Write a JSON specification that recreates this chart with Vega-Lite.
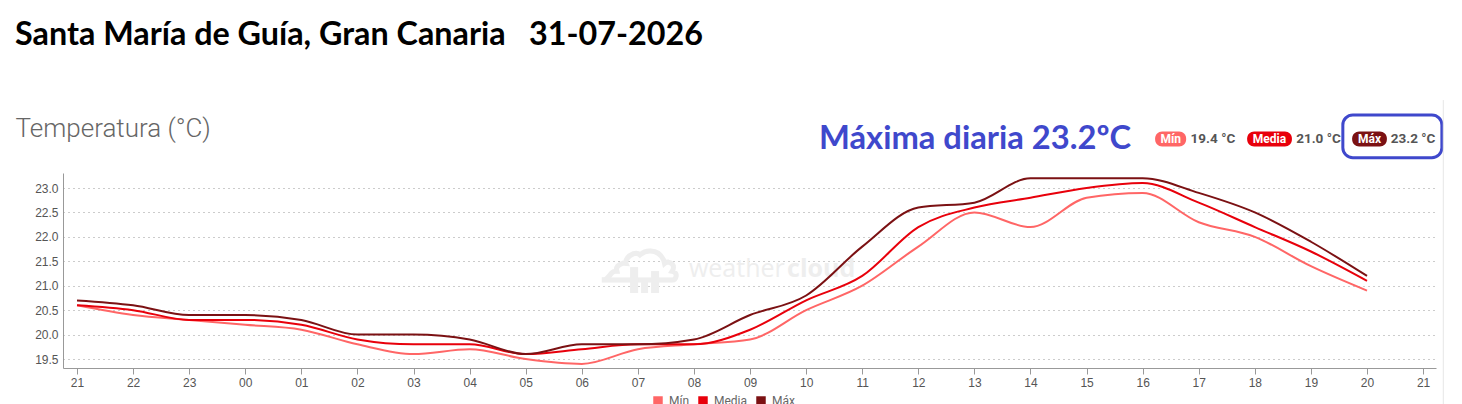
{
  "$schema": "https://vega.github.io/schema/vega-lite/v6.json",
  "width": 1373,
  "height": 195,
  "autosize": {"type": "none"},
  "padding": {"left": 63, "top": 173, "right": 26, "bottom": 36},
  "background": "white",
  "config": {"view": {"stroke": null}},
  "data": {
    "values": [
      {"hora": 0, "Mín": 20.6, "Media": 20.6, "Máx": 20.7},
      {"hora": 1, "Mín": 20.4, "Media": 20.5, "Máx": 20.6},
      {"hora": 2, "Mín": 20.3, "Media": 20.3, "Máx": 20.4},
      {"hora": 3, "Mín": 20.2, "Media": 20.3, "Máx": 20.4},
      {"hora": 4, "Mín": 20.1, "Media": 20.2, "Máx": 20.3},
      {"hora": 5, "Mín": 19.8, "Media": 19.9, "Máx": 20.0},
      {"hora": 6, "Mín": 19.6, "Media": 19.8, "Máx": 20.0},
      {"hora": 7, "Mín": 19.7, "Media": 19.8, "Máx": 19.9},
      {"hora": 8, "Mín": 19.5, "Media": 19.6, "Máx": 19.6},
      {"hora": 9, "Mín": 19.4, "Media": 19.7, "Máx": 19.8},
      {"hora": 10, "Mín": 19.7, "Media": 19.8, "Máx": 19.8},
      {"hora": 11, "Mín": 19.8, "Media": 19.8, "Máx": 19.9},
      {"hora": 12, "Mín": 19.9, "Media": 20.1, "Máx": 20.4},
      {"hora": 13, "Mín": 20.5, "Media": 20.7, "Máx": 20.8},
      {"hora": 14, "Mín": 21.0, "Media": 21.2, "Máx": 21.8},
      {"hora": 15, "Mín": 21.8, "Media": 22.2, "Máx": 22.6},
      {"hora": 16, "Mín": 22.5, "Media": 22.6, "Máx": 22.7},
      {"hora": 17, "Mín": 22.2, "Media": 22.8, "Máx": 23.2},
      {"hora": 18, "Mín": 22.8, "Media": 23.0, "Máx": 23.2},
      {"hora": 19, "Mín": 22.9, "Media": 23.1, "Máx": 23.2},
      {"hora": 20, "Mín": 22.3, "Media": 22.7, "Máx": 22.9},
      {"hora": 21, "Mín": 22.0, "Media": 22.2, "Máx": 22.5},
      {"hora": 22, "Mín": 21.4, "Media": 21.7, "Máx": 21.9},
      {"hora": 23, "Mín": 20.9, "Media": 21.1, "Máx": 21.2}
    ]
  },
  "layer": [
    {
      "data": {"values": [{"texto": "☁"}]},
      "mark": {"type": "text", "align": "center", "baseline": "middle", "font": "DejaVu Sans", "fontSize": 80, "fill": null, "fillOpacity": 0, "stroke": "#eeeeee", "strokeWidth": 5},
      "encoding": {
        "x": {"datum": 10.04, "type": "quantitative", "title": null},
        "y": {"datum": 21.6, "type": "quantitative", "title": null},
        "text": {"field": "texto"}
      }
    },
    {
      "data": {"values": [{}]},
      "mark": {"type": "rect", "color": "#eeeeee"},
      "encoding": {
        "x": {"datum": 9.861, "type": "quantitative", "title": null},
        "x2": {"datum": 10.004},
        "y": {"datum": 21.381, "type": "quantitative", "title": null},
        "y2": {"datum": 20.85}
      }
    },
    {
      "data": {"values": [{}]},
      "mark": {"type": "rect", "color": "#eeeeee"},
      "encoding": {
        "x": {"datum": 10.057, "type": "quantitative", "title": null},
        "x2": {"datum": 10.182},
        "y": {"datum": 21.156, "type": "quantitative", "title": null},
        "y2": {"datum": 20.85}
      }
    },
    {
      "data": {"values": [{}]},
      "mark": {"type": "rect", "color": "#eeeeee"},
      "encoding": {
        "x": {"datum": 10.235, "type": "quantitative", "title": null},
        "x2": {"datum": 10.378},
        "y": {"datum": 21.3, "type": "quantitative", "title": null},
        "y2": {"datum": 20.85}
      }
    },
    {
      "data": {"values": [{"texto": "weather"}]},
      "mark": {"type": "text", "align": "left", "baseline": "alphabetic", "font": "Open Sans", "fontSize": 25, "color": "#eeeeee"},
      "encoding": {
        "x": {"datum": 10.91, "type": "quantitative", "title": null},
        "y": {"datum": 21.18, "type": "quantitative", "title": null},
        "text": {"field": "texto"}
      }
    },
    {
      "data": {"values": [{"texto": "cloud"}]},
      "mark": {"type": "text", "align": "left", "baseline": "alphabetic", "font": "Open Sans", "fontSize": 25, "fontWeight": "bold", "color": "#eeeeee"},
      "encoding": {
        "x": {"datum": 12.66, "type": "quantitative", "title": null},
        "y": {"datum": 21.18, "type": "quantitative", "title": null},
        "text": {"field": "texto"}
      }
    },
    {
      "transform": [{"fold": ["Mín", "Media", "Máx"], "as": ["serie", "temp"]}],
      "mark": {"type": "line", "interpolate": "monotone", "strokeWidth": 2},
      "encoding": {
        "x": {
          "field": "hora",
          "type": "quantitative",
          "scale": {"domain": [-0.25, 24.23], "nice": false, "zero": false},
          "axis": {
            "title": null,
            "values": [0, 1, 2, 3, 4, 5, 6, 7, 8, 9, 10, 11, 12, 13, 14, 15, 16, 17, 18, 19, 20, 21, 22, 23, 24],
            "tickCount": 30,
            "labelExpr": "timeFormat(datetime(2026, 6, 30, 21 + datum.value), '%H')",
            "grid": false,
            "labelFlush": false,
            "labelOverlap": false,
            "tickSize": 6,
            "tickColor": "#999999",
            "domainColor": "#999999",
            "labelColor": "#555555",
            "labelFont": "Liberation Sans",
            "labelFontSize": 12,
            "labelPadding": 3
          }
        },
        "y": {
          "field": "temp",
          "type": "quantitative",
          "scale": {"domain": [19.316, 23.307], "nice": false, "zero": false},
          "axis": {
            "title": null,
            "values": [19.5, 20, 20.5, 21, 21.5, 22, 22.5, 23],
            "tickCount": 10,
            "format": ".1f",
            "grid": true,
            "gridDash": [1, 4],
            "gridColor": "#999999",
            "ticks": false,
            "labelOverlap": false,
            "domainColor": "#999999",
            "labelColor": "#555555",
            "labelFont": "Liberation Sans",
            "labelFontSize": 12,
            "labelPadding": 5
          }
        },
        "color": {
          "field": "serie",
          "type": "nominal",
          "scale": {"domain": ["Mín", "Media", "Máx"], "range": ["#ff6666", "#e8000b", "#7b1113"]},
          "legend": {
            "title": null,
            "orient": "none",
            "legendX": 589,
            "legendY": 222,
            "padding": 0,
            "direction": "horizontal",
            "symbolType": "square",
            "symbolSize": 90,
            "symbolStrokeWidth": 0,
            "labelColor": "#666666",
            "labelFont": "Roboto",
            "labelFontSize": 12,
            "labelOffset": 5,
            "columnPadding": 7,
            "encode": {"symbols": {"update": {"fill": {"scale": "color", "field": "value"}, "opacity": {"value": 1}}}}
          }
        }
      }
    },
    {
      "data": {"values": [{"texto": "Santa María de Guía, Gran Canaria \u00a0 31-07-2026"}]},
      "mark": {"type": "text", "align": "left", "baseline": "alphabetic", "font": "Lato", "fontSize": 32.3, "fontWeight": "bold", "color": "#000000"},
      "encoding": {
        "x": {"datum": -1.105, "type": "quantitative", "title": null},
        "y": {"datum": 25.92, "type": "quantitative", "title": null},
        "text": {"field": "texto"}
      }
    },
    {
      "data": {"values": [{"texto": "Temperatura (°C)"}]},
      "mark": {"type": "text", "align": "left", "baseline": "alphabetic", "font": "Roboto", "fontSize": 26, "fontWeight": 300, "color": "#666666"},
      "encoding": {
        "x": {"datum": -1.097, "type": "quantitative", "title": null},
        "y": {"datum": 24.045, "type": "quantitative", "title": null},
        "text": {"field": "texto"}
      }
    },
    {
      "data": {"values": [{"texto": "Máxima diaria 23.2ºC"}]},
      "mark": {"type": "text", "align": "left", "baseline": "alphabetic", "font": "Lato", "fontSize": 32.7, "fontWeight": "bold", "color": "#3f48cc"},
      "encoding": {
        "x": {"datum": 13.23, "type": "quantitative", "title": null},
        "y": {"datum": 23.793, "type": "quantitative", "title": null},
        "text": {"field": "texto"}
      }
    },
    {
      "data": {"values": [{}]},
      "mark": {"type": "rect", "cornerRadius": 7, "color": "#ff6666"},
      "encoding": {
        "x": {"datum": 19.222, "type": "quantitative", "title": null},
        "x2": {"datum": 19.775},
        "y": {"datum": 24.158, "type": "quantitative", "title": null},
        "y2": {"datum": 23.85}
      }
    },
    {
      "data": {"values": [{}]},
      "mark": {"type": "rect", "cornerRadius": 7, "color": "#e8000b"},
      "encoding": {
        "x": {"datum": 20.863, "type": "quantitative", "title": null},
        "x2": {"datum": 21.661},
        "y": {"datum": 24.158, "type": "quantitative", "title": null},
        "y2": {"datum": 23.85}
      }
    },
    {
      "data": {"values": [{}]},
      "mark": {"type": "rect", "cornerRadius": 7, "color": "#7b1113"},
      "encoding": {
        "x": {"datum": 22.735, "type": "quantitative", "title": null},
        "x2": {"datum": 23.354},
        "y": {"datum": 24.158, "type": "quantitative", "title": null},
        "y2": {"datum": 23.85}
      }
    },
    {
      "data": {"values": [{"texto": "Mín"}]},
      "mark": {"type": "text", "align": "center", "baseline": "middle", "font": "Roboto", "fontSize": 12, "fontWeight": "bold", "color": "#ffffff"},
      "encoding": {
        "x": {"datum": 19.499, "type": "quantitative", "title": null},
        "y": {"datum": 24.004, "type": "quantitative", "title": null},
        "text": {"field": "texto"}
      }
    },
    {
      "data": {"values": [{"texto": "Media"}]},
      "mark": {"type": "text", "align": "center", "baseline": "middle", "font": "Roboto", "fontSize": 12, "fontWeight": "bold", "color": "#ffffff"},
      "encoding": {
        "x": {"datum": 21.261, "type": "quantitative", "title": null},
        "y": {"datum": 24.004, "type": "quantitative", "title": null},
        "text": {"field": "texto"}
      }
    },
    {
      "data": {"values": [{"texto": "Máx"}]},
      "mark": {"type": "text", "align": "center", "baseline": "middle", "font": "Roboto", "fontSize": 12, "fontWeight": "bold", "color": "#ffffff"},
      "encoding": {
        "x": {"datum": 23.044, "type": "quantitative", "title": null},
        "y": {"datum": 24.004, "type": "quantitative", "title": null},
        "text": {"field": "texto"}
      }
    },
    {
      "data": {"values": [{"texto": "19.4 °C"}]},
      "mark": {"type": "text", "align": "left", "baseline": "middle", "font": "Roboto", "fontSize": 13.5, "fontWeight": "bold", "color": "#555555"},
      "encoding": {
        "x": {"datum": 19.855, "type": "quantitative", "title": null},
        "y": {"datum": 24.004, "type": "quantitative", "title": null},
        "text": {"field": "texto"}
      }
    },
    {
      "data": {"values": [{"texto": "21.0 °C"}]},
      "mark": {"type": "text", "align": "left", "baseline": "middle", "font": "Roboto", "fontSize": 13.5, "fontWeight": "bold", "color": "#555555"},
      "encoding": {
        "x": {"datum": 21.737, "type": "quantitative", "title": null},
        "y": {"datum": 24.004, "type": "quantitative", "title": null},
        "text": {"field": "texto"}
      }
    },
    {
      "data": {"values": [{"texto": "23.2 °C"}]},
      "mark": {"type": "text", "align": "left", "baseline": "middle", "font": "Roboto", "fontSize": 13.5, "fontWeight": "bold", "color": "#555555"},
      "encoding": {
        "x": {"datum": 23.425, "type": "quantitative", "title": null},
        "y": {"datum": 24.004, "type": "quantitative", "title": null},
        "text": {"field": "texto"}
      }
    },
    {
      "data": {"values": [{}]},
      "mark": {"type": "rect", "cornerRadius": 10, "fill": null, "fillOpacity": 0, "stroke": "#3f48cc", "strokeWidth": 3},
      "encoding": {
        "x": {"datum": 22.569, "type": "quantitative", "title": null},
        "x2": {"datum": 24.335},
        "y": {"datum": 24.496, "type": "quantitative", "title": null},
        "y2": {"datum": 23.621}
      }
    },
    {
      "data": {"values": [{}]},
      "mark": {"type": "rule", "color": "#e6e6e6", "strokeWidth": 1},
      "encoding": {
        "x": {"datum": 24.36, "type": "quantitative", "title": null},
        "y": {"datum": 24.8, "type": "quantitative", "title": null},
        "y2": {"datum": 18.5}
      }
    }
  ]
}
